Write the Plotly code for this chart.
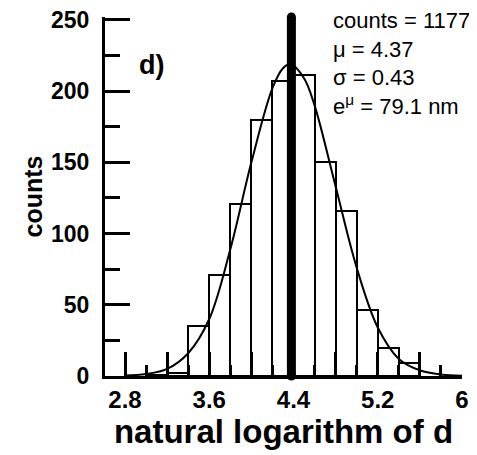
import plotly.graph_objects as go

# Histogram of ln(d): bin centers (bin width 0.2) and counts
bin_centers = [3.1, 3.3, 3.5, 3.7, 3.9, 4.1, 4.3, 4.5, 4.7, 4.9, 5.1, 5.3, 5.5]
bin_counts = [1, 2, 35, 71, 121, 180, 207, 211, 150, 116, 46, 20, 9]
bin_width = 0.2

# Fitted normal curve
fit_x = [2.8, 3.0, 3.2, 3.4, 3.6, 3.8, 4.0, 4.2, 4.3, 4.37, 4.5, 4.6, 4.8, 5.0, 5.2, 5.4, 5.6, 5.8, 6.0]
fit_y = [0.3, 1.4, 5, 16, 40, 89, 150, 202, 216, 219, 209, 190, 133, 76, 34, 12, 4, 1, 0.2]

# Mean marker line
mean_x = [4.38, 4.38]
mean_y = [0, 252]

x_label_vals = [2.8, 3.6, 4.4, 5.2, 6.0]
x_label_text = ["2.8", "3.6", "4.4", "5.2", "6"]
x_major_vals = [2.8, 3.2, 3.6, 4.0, 4.4, 4.8, 5.2, 5.6, 6.0]
y_tick_vals = [0, 50, 100, 150, 200, 250]

stats_text = "counts = 1177<br>μ = 4.37<br>σ = 0.43<br>e<sup>μ</sup> = 79.1 nm"
panel_label = "d)"

FONT = "Arial, Liberation Sans, Helvetica, sans-serif"

fig = go.Figure()
fig.add_trace(go.Bar(
    x=bin_centers, y=bin_counts, width=bin_width,
    marker=dict(color="white", line=dict(color="black", width=2)),
    showlegend=False, hoverinfo="skip",
))
fig.add_trace(go.Scatter(
    x=fit_x, y=fit_y, mode="lines", line=dict(color="black", width=2, shape="spline"),
    showlegend=False, cliponaxis=False,
))
fig.add_trace(go.Scatter(
    x=mean_x, y=mean_y, mode="lines+markers",
    line=dict(color="black", width=9), marker=dict(color="black", size=9),
    showlegend=False, cliponaxis=False,
))
# invisible trace on overlay axis to carry the long 0.4-spaced ticks
fig.add_trace(go.Scatter(x=[x_major_vals[0]], y=[0], xaxis="x2", mode="markers",
                         marker=dict(opacity=0), showlegend=False, hoverinfo="skip"))

fig.update_layout(
    width=469, height=447,
    margin=dict(l=97, r=15, t=9, b=79),
    paper_bgcolor="white", plot_bgcolor="white",
    font=dict(family=FONT, color="black"),
    bargap=0,
    xaxis=dict(
        range=[2.61, 6.0], showgrid=False, zeroline=False, automargin=False,
        showline=True, linecolor="black", linewidth=3,
        tickmode="array", tickvals=x_label_vals, ticktext=x_label_text,
        ticks="inside", ticklen=24, tickwidth=3, tickcolor="black",
        minor=dict(ticks="inside", dtick=0.2, tick0=2.8, ticklen=11, tickwidth=3, tickcolor="black"),
        tickfont=dict(family=FONT, size=24, color="black", weight="bold"),
        title=dict(text="<b>natural logarithm of d</b>", font=dict(family=FONT, size=33, color="black"), standoff=6),
    ),
    xaxis2=dict(
        overlaying="x", matches="x", side="bottom", showgrid=False, zeroline=False,
        showline=False, tickmode="array", tickvals=x_major_vals, showticklabels=False,
        ticks="inside", ticklen=24, tickwidth=3, tickcolor="black",
    ),
    yaxis=dict(
        range=[0, 252], showgrid=False, zeroline=False, automargin=False,
        showline=True, linecolor="black", linewidth=3,
        tickmode="array", tickvals=y_tick_vals, ticklabeloverflow="allow",
        ticks="inside", ticklen=25, tickwidth=3, tickcolor="black",
        minor=dict(ticks="inside", dtick=25, tick0=0, ticklen=15, tickwidth=3, tickcolor="black"),
        tickfont=dict(family=FONT, size=23, color="black", weight="bold"),
        ticklabelstandoff=8,
        title=dict(text="<b>counts</b>", font=dict(family=FONT, size=25, color="black"), standoff=2),
    ),
    annotations=[
        dict(text=stats_text, xref="paper", yref="paper", x=0.633, y=1.032,
             xanchor="left", yanchor="top", align="left", showarrow=False,
             font=dict(family=FONT, size=22, color="black")),
        dict(text="<b>" + panel_label + "</b>", xref="paper", yref="paper", x=0.13, y=0.865,
             xanchor="center", yanchor="middle", showarrow=False,
             font=dict(family=FONT, size=27, color="black")),
    ],
)

fig.write_html("out.html")
